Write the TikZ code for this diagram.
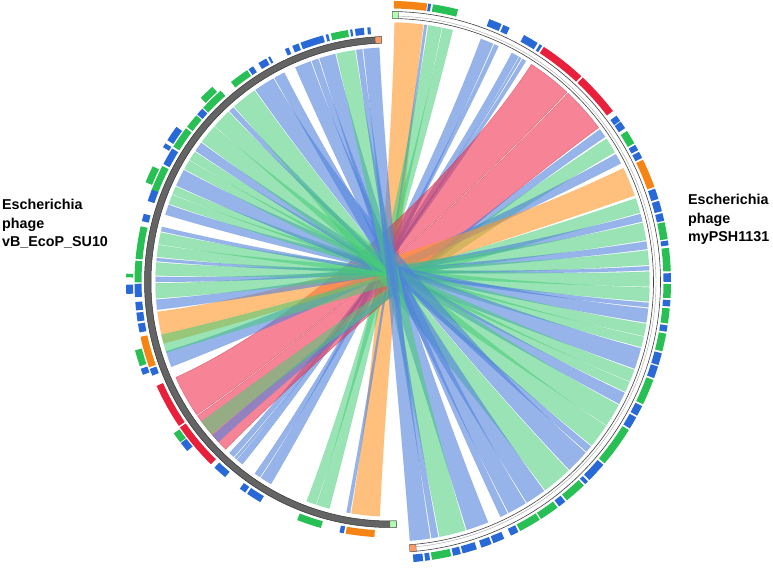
\documentclass[tikz,border=0pt]{standalone}
\usepackage{fontspec}
\setmainfont{Liberation Sans}
\definecolor{ribBlue}{RGB}{80,130,220}
\definecolor{ribGreen}{RGB}{70,205,120}
\definecolor{ribOrange}{RGB}{255,150,40}
\definecolor{ribRed}{RGB}{240,50,80}
\definecolor{gBlue}{RGB}{40,105,215}
\definecolor{gGreen}{RGB}{40,192,85}
\definecolor{gRed}{RGB}{232,32,60}
\definecolor{gOrange}{RGB}{246,132,20}
\definecolor{arcGray}{RGB}{100,100,100}
\newcommand\ribRR{259.5pt}
\newcommand\ribRL{234.5pt}
\newcommand\ribCR{116.8pt}
\newcommand\ribCL{105.5pt}
\newcommand\ribbon[5]{\path[#5] (#1:\ribRR) arc[start angle=#1,end angle=#2,radius=\ribRR] .. controls (#2:\ribCR) and (#3:\ribCL) .. (#3:\ribRL) arc[start angle=#3,end angle=#4,radius=\ribRL] .. controls (#4:\ribCL) and (#1:\ribCR) .. cycle;}
\newcommand\band[5]{\path[#5] (#1:#3) arc[start angle=#1,end angle=#2,radius=#3] -- (#2:#4) arc[start angle=#2,end angle=#1,radius=#4] -- cycle;}
\begin{document}
\begin{tikzpicture}[x=1pt,y=1pt,
  rBl/.style={fill=ribBlue,fill opacity=0.6,draw=ribBlue,draw opacity=0.3,line width=0.3pt},
  rGr/.style={fill=ribGreen,fill opacity=0.55,draw=ribGreen,draw opacity=0.3,line width=0.3pt},
  rOr/.style={fill=ribOrange,fill opacity=0.6,draw=ribOrange,draw opacity=0.3,line width=0.3pt},
  rRd/.style={fill=ribRed,fill opacity=0.6,draw=ribRed!80!black,draw opacity=0.5,line width=0.4pt},
  lbl/.style={font=\fontsize{14.3}{17}\selectfont\bfseries,inner sep=0pt,anchor=base west}]
\useasboundingbox (0,0) rectangle (773,568);
\fill[white] (0,0) rectangle (773,568);
\begin{scope}[shift={(390,286)}]
% ribbons
\foreach \a/\b/\c/\d/\s in {
 89/82.6/267.5/260.5/rOr, 82.4/81.8/260.2/259.3/rBl, 81.5/78.5/255/251.8/rGr, 78.3/76/251.6/249.2/rGr,
 69.5/66.6/239.5/236.6/rBl, 66.3/65.3/236.3/234.8/rBl, 62/60.3/231/229.3/rBl, 60.1/59.6/229.1/228.5/rBl,
 59.3/58.4/228.2/226.8/rBl, 57/47/214.5/204/rRd, 46.7/36.5/225.5/214.8/rRd, 36/34/223/220.8/rBl,
 33.5/30/220.5/216.5/rGr, 29.5/27.2/201.2/197.2/rBl, 26/19.5/195.2/187.3/rOr, 18.8/15.5/197.5/193/rGr,
 15.2/13.5/186.8/184.3/rBl, 13.2/9.3/184/180.3/rGr, 9/7.3/180/178.7/rBl, 7/3.8/178.4/175.2/rGr,
 3.5/2.6/174.9/174.1/rBl, 2.3/-1/173.8/170.9/rGr, -1.2/-4.3/170.7/167.8/rGr, -4.6/-5.6/167.5/166.4/rBl,
 -5.9/-9/163.3/160.8/rBl, -9.3/-12/160.5/158.2/rGr, -12.2/-14.5/158/156/rGr, -14.8/-19.5/155.7/151.5/rBl,
 -19.8/-22.5/151.2/148.8/rGr, -22.7/-25/148.6/146.3/rGr, -25.3/-28/146/143.6/rBl, -28.3/-33.5/143.3/138.5/rGr,
 -33.7/-39/138.3/133.5/rGr, -39.3/-40.8/133.2/131.9/rBl, -46.6/-53.3/131.6/125.3/rGr, -41.1/-46.3/125/119.8/rBl,
 -53.6/-58.2/119.5/116.8/rBl, -58.5/-62.8/113.8/109.8/rBl, -63.1/-64.8/109.5/107.8/rBl, -67.8/-72.8/107.5/103.5/rBl,
 -73.1/-79/103.2/98.6/rGr, -79.3/-80.8/98.3/96.8/rBl, -81.1/-85.6/96.5/92.6/rBl}
 {\ribbon{\a}{\b}{\c}{\d}{\s}}
% right genome arc
\band{89.5}{-85.8}{263.5pt}{270.5pt}{fill=white}
\draw[black!75,line width=0.6pt] (89.5:263.5pt) arc[start angle=89.5,end angle=-85.8,radius=263.5pt];
\draw[black!75,line width=0.6pt] (89.5:270.5pt) arc[start angle=89.5,end angle=-85.8,radius=270.5pt];
\draw[black!35,line width=0.4pt] (89.5:266pt) arc[start angle=89.5,end angle=-85.8,radius=266pt];
\band{89.5}{88.2}{263.5pt}{270.5pt}{fill=green!30,draw=black!60,line width=0.4pt}
\band{-84.4}{-85.8}{263.5pt}{270.5pt}{fill=orange!70!red!60,draw=black!60,line width=0.4pt}
% left genome arc
\band{92}{271.5}{239pt}{245.5pt}{fill=arcGray,draw=black!80,line width=0.5pt}
\band{92}{93.5}{239pt}{245.5pt}{fill=orange!70!red!60,draw=black!60,line width=0.4pt}
\band{270}{271.5}{239pt}{245.5pt}{fill=green!30,draw=black!60,line width=0.4pt}
% right genes
\foreach \a/\b/\c in {
 89.2/82.4/gOrange, 82.2/81.6/gBlue, 81.2/76/gGreen, 69.3/66.6/gBlue, 66.2/64.8/gBlue, 61.5/58.3/gBlue,
 57.8/57.2/gBlue, 56.8/47.1/gRed, 46.7/37.5/gRed, 36.3/35/gBlue, 34.8/33.2/gBlue, 32.5/29.6/gGreen,
 29.2/28/gBlue, 27.6/26.2/gBlue, 25.8/19.8/gOrange, 19.4/17.2/gBlue, 16.8/14.6/gBlue, 14.2/12.6/gBlue,
 12.3/8.8/gGreen, 8.5/7.5/gBlue, 7/2.2/gGreen, 1.8/0/gBlue, -0.4/-3.3/gGreen, -3.7/-5/gBlue,
 -5.4/-8.5/gGreen, -8.9/-10.2/gBlue, -10.6/-14.3/gGreen, -14.7/-17.2/gBlue, -17.5/-20/gBlue,
 -20.4/-25.8/gGreen, -26.2/-28.4/gBlue, -28.8/-31.4/gBlue, -31.8/-40.2/gGreen, -40.6/-44.8/gBlue,
 -45.2/-46/gBlue, -46.4/-51/gGreen, -51.4/-53/gBlue, -53.4/-57.5/gGreen, -57.8/-62.4/gGreen,
 -62.8/-64.5/gBlue, -66/-68.4/gBlue, -68.8/-71/gBlue, -72/-75/gBlue, -75.4/-77/gBlue, -77.4/-81.4/gGreen,
 -81.8/-82.8/gBlue, -83.2/-85.2/gBlue}
 {\band{\a}{\b}{273.5pt}{281pt}{fill=\c}}
% left genes, inner ring
\foreach \a/\b/\c in {
 94.4/95.1/gBlue, 95.9/97.9/gBlue, 98.5/99/gBlue, 99.5/103.4/gGreen, 104/104.6/gBlue, 105.2/110.5/gBlue,
 111/112.5/gBlue, 113.4/114.3/gBlue, 118/118.5/gBlue, 119/121/gBlue, 122.4/123.6/gBlue, 124/128.5/gGreen,
 131.5/137/gGreen, 137.3/139/gBlue, 139.3/142.6/gGreen, 143/148/gGreen, 148.5/152.5/gBlue, 153/159/gGreen,
 158.8/161.5/gBlue, 164.5/166.2/gBlue, 167.4/174.8/gGreen, 175.2/180.1/gGreen, 180.4/183.4/gBlue,
 184.5/186.4/gBlue, 186.9/188.9/gBlue, 189.4/191.4/gBlue, 192.4/199.5/gOrange, 199.9/201.5/gBlue,
 204/214.3/gRed, 214.7/225.5/gRed, 226.6/229.8/gBlue, 234/235.5/gBlue, 236/239.5/gBlue,
 248.7/254.3/gGreen, 258.6/259.6/gBlue, 260/266.5/gOrange}
 {\band{\a}{\b}{248.5pt}{255.5pt}{fill=\c}}
% left genes, outer ring
\foreach \a/\b/\c in {
 132.3/135.8/gGreen, 144/147.5/gBlue, 148.3/149.3/gBlue, 154/157.8/gGreen, 178.2/179/gGreen,
 180.6/182.6/gBlue, 195/198.6/gGreen, 199.2/200.6/gBlue, 215/217.4/gGreen, 217.6/219.8/gBlue}
 {\band{\a}{\b}{257pt}{264pt}{fill=\c}}
\end{scope}
% labels
\node[lbl] (lt1) at (2,358) {Escherichia};
\node[lbl] (lt2) at (2,339.7) {phage};
\node[lbl] (lt3) at (2,321.4) {vB\_EcoP\_SU10};
\node[lbl] (rt1) at (688,363) {Escherichia};
\node[lbl] (rt2) at (688,344.7) {phage};
\node[lbl] (rt3) at (688,326.3) {myPSH1131};
\end{tikzpicture}
\end{document}
